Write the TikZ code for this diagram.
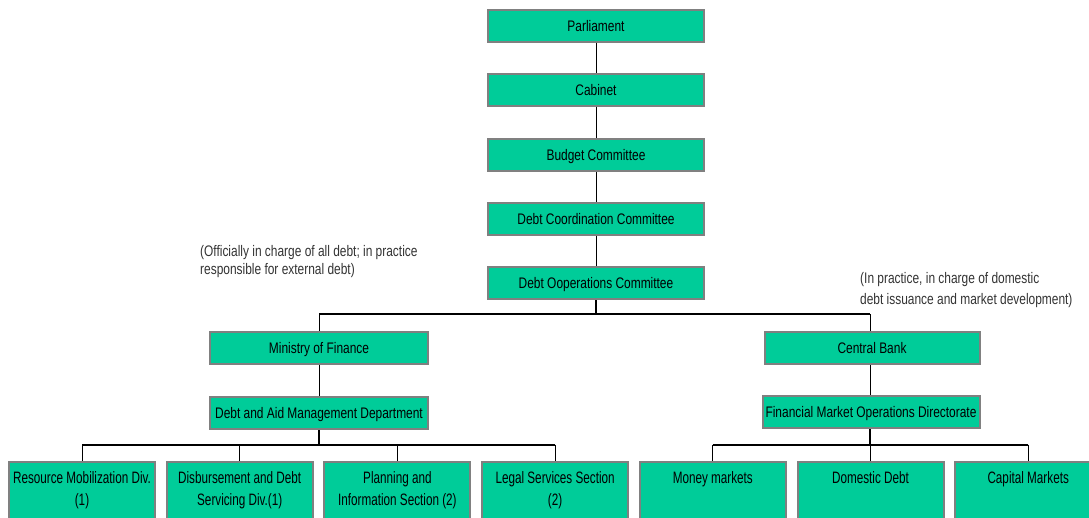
\documentclass[tikz,border=0pt]{standalone}
\usepackage{fontspec}
\setmainfont{Liberation Sans}
\newfontfamily\boxfont{Liberation Sans}[FakeStretch=0.78]
\newfontfamily\lowfont{Liberation Sans}[FakeStretch=0.71]
\definecolor{boxgreen}{HTML}{00CC99}
\definecolor{boxgray}{HTML}{808080}
\newcommand{\lowtext}[1]{\parbox[t][56pt][t]{146pt}{\centering\rule{0pt}{21pt}#1}}
\begin{document}
\begin{tikzpicture}[x=1pt,y=-1pt,
  box/.style={draw=boxgray, line width=2pt, fill=boxgreen, minimum width=216pt,
    minimum height=32pt, inner sep=0pt, font=\boxfont\fontsize{15.3}{18}\selectfont,
    text height=11pt, text depth=0pt, text=black},
  lowbox/.style={draw=boxgray, line width=2pt, fill=boxgreen, minimum width=146pt,
    minimum height=58pt, inner sep=0pt, anchor=north,
    font=\lowfont\fontsize{16.5}{22}\selectfont, text=black},
  note/.style={inner sep=0pt, anchor=north west, align=left, text=black!80},
  link/.style={line width=1pt},
  bus/.style={line width=2.2pt}]
\useasboundingbox (0,0) rectangle (1089,517);
\clip (0,0) rectangle (1089,517);

% top chain
\node[box] (par) at (596,25.5) {Parliament};
\node[box] (cab) at (596,89.5) {Cabinet};
\node[box] (bud) at (596,155) {Budget Committee};
\node[box] (dcc) at (596,218.5) {Debt Coordination Committee};
\node[box] (doc) at (596,283) {Debt Ooperations Committee};

% second level
\node[box, minimum width=218pt] (mof) at (319,348) {Ministry of Finance};
\node[box, minimum width=215pt] (cb) at (872,348) {Central Bank};
\node[box, minimum width=218pt] (dam) at (319,413) {Debt and Aid Management Department};
\node[box, minimum width=217pt] (fmo) at (871,412) {Financial Market Operations Directorate};

% bottom level
\node[lowbox] (b1) at (82,460.7) {\lowtext{Resource Mobilization Div.\\(1)}};
\node[lowbox] (b2) at (239.7,460.7) {\lowtext{Disbursement and Debt\\Servicing Div.(1)}};
\node[lowbox] (b3) at (397.4,460.7) {\lowtext{Planning and\\Information Section (2)}};
\node[lowbox] (b4) at (555.1,460.7) {\lowtext{Legal Services Section\\(2)}};
\node[lowbox] (b5) at (712.8,460.7) {\lowtext{Money markets}};
\node[lowbox] (b6) at (870.5,460.7) {\lowtext{Domestic Debt}};
\node[lowbox] (b7) at (1028.2,460.7) {\lowtext{Capital Markets}};

% notes
\node[note, font=\boxfont\fontsize{15.3}{18}\selectfont] (n1) at (200,245.5)
  {\rule{0pt}{11pt}(Officially in charge of all debt; in practice\\responsible for external debt)};
\node[note, font=\boxfont\fontsize{15.3}{21}\selectfont] (n2) at (860,272.5)
  {\rule{0pt}{11pt}(In practice, in charge of domestic\\debt issuance and market development)};

% connectors
\draw[link] (par) -- (cab);
\draw[link] (cab) -- (bud);
\draw[link] (bud) -- (dcc);
\draw[link] (dcc) -- (doc);

\coordinate (busL) at (319,314.3);
\coordinate (busR) at (870,314.3);
\draw[bus] (doc.south) -- (doc.south |- busL);
\draw[bus] (busL) -- (busR);
\draw[link] (busL) -- (mof.north);
\draw[link] (busR) -- (busR |- cb.north);
\draw[link] (mof) -- (dam);
\draw[link] (cb.south -| busR) -- (fmo.north -| busR);

\coordinate (lbus) at (319,444.7);
\coordinate (rbus) at (870,444.7);
\draw[bus] (dam.south) -- (lbus);
\draw[bus] (b1.north |- lbus) -- (b4.north |- lbus);
\foreach \b in {b1,b2,b3,b4} \draw[link] (\b.north |- lbus) -- (\b.north);
\draw[bus] (fmo.south -| rbus) -- (rbus);
\draw[bus] (b5.north |- rbus) -- (b7.north |- rbus);
\foreach \b in {b5,b6,b7} \draw[link] (\b.north |- rbus) -- (\b.north);
\end{tikzpicture}
\end{document}
